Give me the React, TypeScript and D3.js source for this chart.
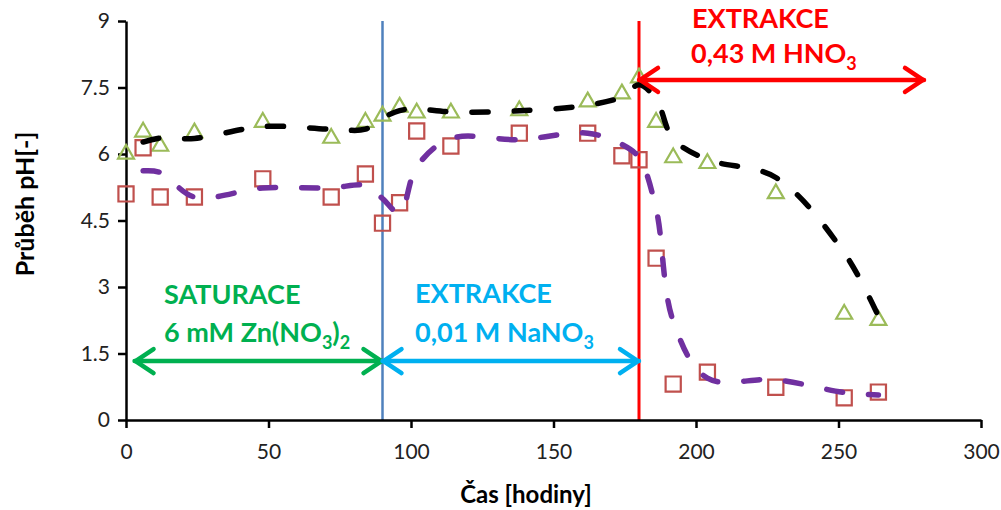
import React, { useRef, useEffect } from "react";
import * as d3 from "d3";

// sampling times (hours)
const hours = [0, 6, 12, 24, 48, 72, 84, 90, 96, 102, 114, 138, 162, 174, 180, 186, 192, 204, 228, 252, 264];
// green triangles
const phTriangle = [6.02, 6.52, 6.2, 6.5, 6.74, 6.38, 6.74, 6.88, 7.08, 6.95, 6.95, 7.0, 7.2, 7.38, 7.74, 6.74, 5.94, 5.81, 5.13, 2.41, 2.27];
// red squares
const phSquare = [5.1, 6.14, 5.03, 5.03, 5.44, 5.03, 5.55, 4.44, 4.9, 6.52, 6.18, 6.47, 6.47, 5.96, 5.87, 3.65, 0.81, 1.08, 0.74, 0.5, 0.63];

const xTicks = [0, 50, 100, 150, 200, 250, 300];
const yTicks = [0, 1.5, 3, 4.5, 6, 7.5, 9];
const phaseBounds = [90, 180];

const width = 1001;
const height = 510;
const margin = { top: 21, right: 20, bottom: 90, left: 126 };

const FONT = "Lato, 'Open Sans', sans-serif";

// Excel style 2-period moving average trendline
const movingAvg = (vals: number[]) =>
  vals.slice(1).map((v, i) => ({ x: hours[i + 1], y: (vals[i] + v) / 2 }));

const App = () => {
  const xAxisRef = useRef<SVGGElement>(null);
  const yAxisRef = useRef<SVGGElement>(null);

  const x = d3.scaleLinear().domain([0, 300]).range([margin.left, width - margin.right]);
  const y = d3.scaleLinear().domain([0, 9]).range([height - margin.bottom, margin.top]);

  useEffect(() => {
    const xAxis = d3.axisBottom(x).tickValues(xTicks).tickSizeInner(8).tickSizeOuter(0).tickPadding(16).tickFormat((d) => String(d));
    const yAxis = d3.axisLeft(y).tickValues(yTicks).tickSizeInner(8).tickSizeOuter(0).tickPadding(8).tickFormat((d) => String(d));
    const gx = d3.select(xAxisRef.current!).call(xAxis);
    const gy = d3.select(yAxisRef.current!).call(yAxis);
    [gx, gy].forEach((g) => {
      g.select(".domain").attr("stroke", "#000").attr("stroke-width", 2.5);
      g.selectAll(".tick line").attr("stroke", "#000").attr("stroke-width", 2.5);
      g.selectAll(".tick text").attr("fill", "#222").style("font-size", "21px").style("font-family", FONT);
    });
  }, []);

  const line = d3
    .line<{ x: number; y: number }>()
    .x((d) => x(d.x))
    .y((d) => y(d.y))
    .curve(d3.curveCatmullRom.alpha(0.5));

  const tri = d3.symbol(d3.symbolTriangle, 110)()!;
  const sq = d3.symbol(d3.symbolSquare, 230)()!;

  const arrow = (x0: number, x1: number, yv: number, color: string) => {
    const a = x(x0);
    const b = x(x1);
    const yy = y(yv);
    return (
      <g stroke={color} strokeWidth={4.5} fill="none" strokeLinecap="round" strokeLinejoin="round">
        <line x1={a} x2={b} y1={yy} y2={yy} />
        <polyline points={`${a + 19},${yy - 12} ${a + 1},${yy} ${a + 19},${yy + 12}`} />
        <polyline points={`${b - 19},${yy - 12} ${b - 1},${yy} ${b - 19},${yy + 12}`} />
      </g>
    );
  };

  return (
    <svg width={width} height={height} style={{ position: "absolute", left: 0, top: 0, background: "#fff" }}>
      {/* phase boundaries */}
      <line x1={x(phaseBounds[0])} x2={x(phaseBounds[0])} y1={y(9)} y2={y(0)} stroke="#4F81BD" strokeWidth={2.5} />
      <line x1={x(phaseBounds[1])} x2={x(phaseBounds[1])} y1={y(9)} y2={y(0)} stroke="#FF0000" strokeWidth={3} />

      <g ref={xAxisRef} transform={`translate(0,${height - margin.bottom})`} />
      <g ref={yAxisRef} transform={`translate(${margin.left},0)`} />

      {/* markers */}
      {hours.map((h, i) => (
        <path key={"t" + i} d={tri} transform={`translate(${x(h)},${y(phTriangle[i]) + 1})`} fill="none" stroke="#9BBB59" strokeWidth={2.2} />
      ))}
      {hours.map((h, i) => (
        <path key={"s" + i} d={sq} transform={`translate(${x(h)},${y(phSquare[i])})`} fill="none" stroke="#C0504D" strokeWidth={2.2} />
      ))}

      {/* trendlines */}
      <path d={line(movingAvg(phTriangle))!} fill="none" stroke="#000" strokeWidth={5.5} strokeDasharray="16 26" strokeLinecap="round" />
      <path d={line(movingAvg(phSquare))!} fill="none" stroke="#7030A0" strokeWidth={5.5} strokeDasharray="16 26" strokeLinecap="round" />

      {/* arrows */}
      {arrow(3, phaseBounds[0], 1.33, "#00B050")}
      {arrow(phaseBounds[0], phaseBounds[1], 1.33, "#00B0F0")}
      {arrow(phaseBounds[1], 280, 7.67, "#FF0000")}

      {/* annotations */}
      <g fontFamily={FONT} fontWeight="bold" fontSize={27}>
        <text x={164} y={304} fill="#00B050">SATURACE</text>
        <text x={164} y={342} fill="#00B050">
          6 mM Zn(NO<tspan dy={7} fontSize={18}>3</tspan>
          <tspan dy={-7}>)</tspan>
          <tspan dy={7} fontSize={18}>2</tspan>
        </text>
        <text x={415} y={303} fill="#00B0F0">EXTRAKCE</text>
        <text x={415} y={342} fill="#00B0F0">
          0,01 M NaNO<tspan dy={7} fontSize={18}>3</tspan>
        </text>
        <text x={692} y={28} fill="#FF0000">EXTRAKCE</text>
        <text x={691} y={63} fill="#FF0000">
          0,43 M HNO<tspan dy={7} fontSize={18}>3</tspan>
        </text>
      </g>

      {/* axis titles */}
      <text x={526} y={503} textAnchor="middle" fontFamily={FONT} fontWeight="bold" fontSize={24} fill="#000">
        Čas [hodiny]
      </text>
      <text transform="translate(34,204) rotate(-90)" textAnchor="middle" fontFamily={FONT} fontWeight="bold" fontSize={25} fill="#000">
        Průběh pH[-]
      </text>
    </svg>
  );
};

export default App;
